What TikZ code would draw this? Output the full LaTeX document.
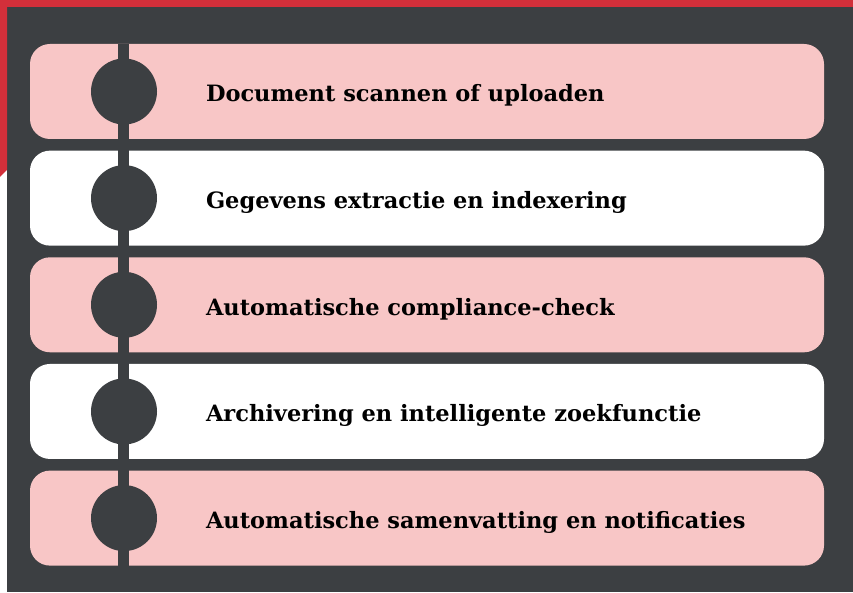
\documentclass[tikz,border=0pt]{standalone}
\usepackage{fontspec}
\setmainfont{DejaVu Serif}
\usepackage{xcolor}
\usetikzlibrary{positioning}
\definecolor{donker}{HTML}{3C3F42}
\definecolor{roze}{HTML}{F8C6C6}
\definecolor{rood}{HTML}{D32F3A}

\begin{document}
\begin{tikzpicture}[
  x=1pt, y=1pt,
  node distance = 11.25pt,
  stap/.style = {rounded corners=20pt, minimum width=794pt, minimum height=95pt, inner sep=0pt, fill=roze},
  stapwit/.style = {stap, fill=white},
  bol/.style = {circle, fill=donker, minimum size=66pt, inner sep=0pt},
  tekst/.style = {font=\bfseries\fontsize{22.5}{27}\selectfont, anchor=base west, inner sep=0pt},
  lijn/.style = {donker, line width=11pt},
]
\fill[white] (0,0) rectangle (853,592);
\fill[donker] (7,0) rectangle (853,585);
\fill[rood] (0,585) rectangle (853,592);
\fill[rood] (0,592) -- (7,592) -- (7,422) -- (0,415) -- cycle;
\useasboundingbox (0,0) rectangle (853,592);
\node[stap] (s1) at (427,500.5) {};
\node[stapwit, below=of s1] (s2) {};
\node[stap, below=of s2] (s3) {};
\node[stapwit, below=of s3] (s4) {};
\node[stap, below=of s4] (s5) {};
\draw[lijn] (s1.north west) ++(94,0) coordinate (top) -- (top |- s5.south);
\foreach \i/\t in {1/Document scannen of uploaden, 2/Gegevens extractie en indexering, 3/Automatische compliance-check, 4/Archivering en intelligente zoekfunctie, 5/Automatische samenvatting en notificaties} {
  \node[bol, right=61pt of s\i.west] (b\i) {};
  \node[tekst] (t\i) at ([xshift=176pt, yshift=-10.5pt]s\i.west) {\t};
}
\end{tikzpicture}
\end{document}
